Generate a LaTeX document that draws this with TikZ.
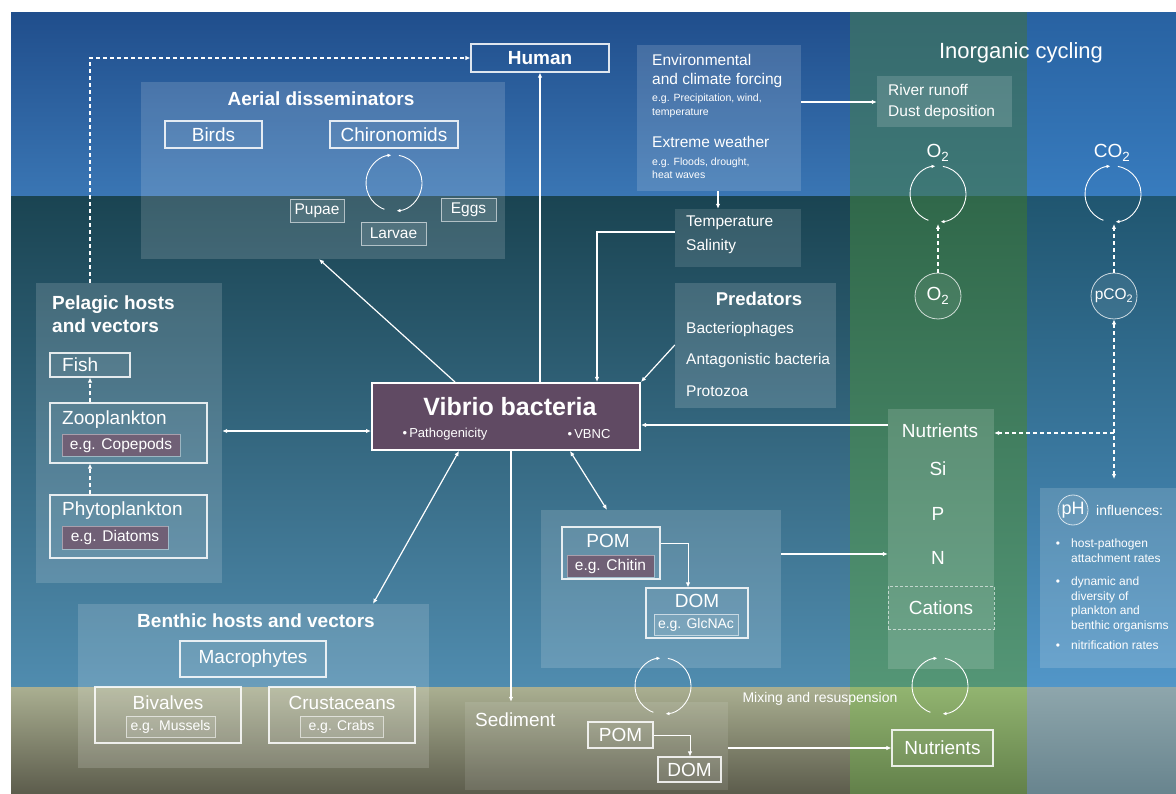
\documentclass[tikz,border=0pt]{standalone}
\usepackage{fontspec}
\setmainfont{Liberation Sans}
\usetikzlibrary{arrows.meta,fit}

\definecolor{skytop}{RGB}{32,78,140}
\definecolor{skybot}{RGB}{58,118,180}
\definecolor{seatop}{RGB}{26,68,82}
\definecolor{seabot}{RGB}{80,140,175}
\definecolor{sedtop}{RGB}{170,175,145}
\definecolor{sedbot}{RGB}{92,92,76}
\definecolor{grnskytop}{RGB}{54,106,110}
\definecolor{grnskybot}{RGB}{62,120,118}
\definecolor{grntop}{RGB}{48,104,74}
\definecolor{grnbot}{RGB}{84,150,118}
\definecolor{grnsedtop}{RGB}{146,180,112}
\definecolor{grnsedbot}{RGB}{98,128,74}
\definecolor{rskytop}{RGB}{40,98,162}
\definecolor{rskybot}{RGB}{56,124,190}
\definecolor{rseatop}{RGB}{32,86,112}
\definecolor{rseabot}{RGB}{82,150,200}
\definecolor{rsedtop}{RGB}{142,166,172}
\definecolor{rsedbot}{RGB}{104,132,142}
\definecolor{vibriofill}{RGB}{96,74,99}
\definecolor{mauve}{RGB}{112,96,118}

\begin{document}
\begin{tikzpicture}[x=1pt, y=-1pt,
    every node/.style={text=white, inner sep=0pt},
    arrow/.style={draw=white, line width=1.2pt, -{Latex[length=5pt,width=4.5pt]}},
    biarrow/.style={draw=white, line width=1.2pt, {Latex[length=5pt,width=4.5pt]}-{Latex[length=5pt,width=4.5pt]}},
    dasharrow/.style={arrow, dash pattern=on 4pt off 3pt},
    bidasharrow/.style={biarrow, dash pattern=on 4pt off 3pt},
    cyc/.style={draw=white, line width=0.9pt, -{Latex[length=4pt,width=3.5pt]}},
    panel/.style={fill=white, fill opacity=0.15},
    box/.style={draw=white, draw opacity=0.85, line width=1.1pt, fill=white, fill opacity=0.05, text opacity=1},
    ebox/.style={draw=white, draw opacity=0.6, line width=0.8pt, fill=white, fill opacity=0.1, text opacity=1},
    mbox/.style={draw=white, draw opacity=0.4, line width=0.8pt, fill=mauve, text opacity=1},
    ring/.style={circle, draw=white, draw opacity=0.75, line width=0.8pt, fill=white, fill opacity=0.08, text opacity=1},
    txthdr/.style={font=\bfseries\fontsize{19}{23}\selectfont},
    txtbig/.style={font=\fontsize{19}{22}\selectfont},
    txtmid/.style={font=\fontsize{15.5}{18}\selectfont},
    txtsml/.style={font=\fontsize{14}{16}\selectfont},
    txttny/.style={font=\fontsize{10.5}{12}\selectfont},
    phtxt/.style={font=\fontsize{12}{14.5}\selectfont},
  ]
  \useasboundingbox (0,0) rectangle (1176,794);
  \fill[white] (0,0) rectangle (1176,794);
  % sky, water column and sediment
  \shade[top color=skytop, bottom color=skybot] (11,13) rectangle (850,197);
  \shade[top color=seatop, bottom color=seabot] (11,197) rectangle (850,687);
  \shade[top color=sedtop, bottom color=sedbot] (11,687) rectangle (850,794);
  \shade[top color=grnskytop, bottom color=grnskybot] (850,13) rectangle (1027,197);
  \shade[top color=grntop, bottom color=grnbot] (850,197) rectangle (1027,687);
  \shade[top color=grnsedtop, bottom color=grnsedbot] (850,687) rectangle (1027,794);
  \shade[top color=rskytop, bottom color=rskybot] (1027,13) rectangle (1176,197);
  \shade[top color=rseatop, bottom color=rseabot] (1027,197) rectangle (1176,687);
  \shade[top color=rsedtop, bottom color=rsedbot] (1027,687) rectangle (1176,794);

  % panels
  \node[panel, fit={(141,82) (505,259)}] (aerial) {};
  \node[panel, fit={(637,45) (801,191)}] (env) {};
  \node[panel, fit={(877,76) (1012,127)}] (river) {};
  \node[panel, fill opacity=0.12, fit={(675,209) (801,267)}] (temp) {};
  \node[panel, fit={(675,283) (836,408)}] (pred) {};
  \node[panel, fit={(36,283) (222,583)}] (pelagic) {};
  \node[panel, fit={(541,510) (781,668)}] (pompanel) {};
  \node[panel, fit={(888,409) (994,669)}] (nutpanel) {};
  \node[panel, fit={(1040,488) (1176,668)}] (phpanel) {};
  \node[panel, fit={(78,604) (429,768)}] (benthic) {};
  \node[panel, fill opacity=0.1, fit={(465,702) (728,790)}] (sediment) {};

  % aerial disseminators
  \node[box, txthdr, fill opacity=0, minimum width=138pt, minimum height=28pt] (human) at (540,58) {Human};
  \node[txthdr] (aeriallbl) at (321,99) {Aerial disseminators};
  \node[box, txtbig, minimum width=97pt, minimum height=27pt] (birds) at (213.5,134.5) {Birds};
  \node[box, txtbig, minimum width=128pt, minimum height=27pt] (chiro) at (394,134.5) {Chironomids};
  \node[ebox, txtmid, minimum width=54pt, minimum height=23pt] (pupae) at (317,210.5) {Pupae};
  \node[ebox, txtmid, minimum width=55pt, minimum height=23pt] (eggs) at (468.5,209.5) {Eggs};
  \node[ebox, txtmid, minimum width=65pt, minimum height=23pt] (larvae) at (393.5,233.5) {Larvae};

  % forcing
  \node[txtmid, anchor=west] (env1) at (652,60) {Environmental};
  \node[txtmid, anchor=west] (env2) at (652,80) {and climate forcing};
  \node[txttny, anchor=west] (env3) at (652,99) {e.g. Precipitation, wind,};
  \node[txttny, anchor=west] (env4) at (652,113) {temperature};
  \node[txtmid, anchor=west] (env5) at (652,142) {Extreme weather};
  \node[txttny, anchor=west] (env6) at (652,163) {e.g. Floods, drought,};
  \node[txttny, anchor=west] (env7) at (652,175) {heat waves};
  \node[txtmid, anchor=west] (temp1) at (686,223) {Temperature};
  \node[txtmid, anchor=west] (temp2) at (686,246) {Salinity};
  \node[font=\bfseries\fontsize{18.5}{22}\selectfont] (predlbl) at (759,299) {Predators};
  \node[txtmid, anchor=west] (pred1) at (686,329) {Bacteriophages};
  \node[txtmid, anchor=west] (pred2) at (686,360) {Antagonistic bacteria};
  \node[txtmid, anchor=west] (pred3) at (686,391) {Protozoa};

  % inorganic cycling
  \node[font=\fontsize{22}{26}\selectfont] (inorg) at (1021,53) {Inorganic cycling};
  \node[txtmid, anchor=west] (river1) at (888,90) {River runoff};
  \node[txtmid, anchor=west] (river2) at (888,112) {Dust deposition};
  \node[txtbig] (o2lbl) at (938,153) {O\textsubscript{2}};
  \node[txtbig] (co2lbl) at (1112,153) {CO\textsubscript{2}};
  \node[ring, txtbig, minimum size=46pt] (o2circ) at (938,296) {O\textsubscript{2}};
  \node[ring, txtmid, minimum size=46pt] (pco2circ) at (1114,296) {pCO\textsubscript{2}};
  \coordinate (cycchiro) at (394,183);
  \coordinate (cyco2) at (938,194);
  \coordinate (cycco2) at (1113,194);
  \coordinate (cycpom) at (663,686);
  \coordinate (cycnut) at (940,686);
  \foreach \c in {cycchiro,cyco2,cycco2,cycpom,cycnut}{
    \draw[cyc] (\c) ++(110:28) arc[start angle=110, end angle=265, radius=28];
    \draw[cyc] (\c) ++(-80:28) arc[start angle=-80, end angle=85, radius=28];
  }

  % pelagic hosts
  \node[txthdr, align=left, anchor=west] (pellbl) at (52,314.5) {Pelagic hosts\\and vectors};
  \node[box, minimum width=80pt, minimum height=24pt] (fish) at (90,365) {};
  \node[txtbig, anchor=west] (fishlbl) at (62,365) {Fish};
  \node[box, minimum width=157pt, minimum height=60pt] (zoo) at (128.5,433) {};
  \node[txtbig, anchor=west] (zoolbl) at (62,420) {Zooplankton};
  \node[mbox, txtmid, minimum width=118pt, minimum height=22pt] (copepods) at (121,445) {e.g. Copepods};
  \node[box, minimum width=157pt, minimum height=63pt] (phyto) at (128.5,526.5) {};
  \node[txtbig, anchor=west] (phytolbl) at (62,511) {Phytoplankton};
  \node[mbox, txtmid, minimum width=106pt, minimum height=23pt] (diatoms) at (115,537.5) {e.g. Diatoms};

  % vibrio
  \node[draw=white, line width=2pt, fill=vibriofill, minimum width=268pt, minimum height=67pt] (vibrio) at (506,416.5) {};
  \node[font=\bfseries\fontsize{25}{28}\selectfont] (viblbl) at (510,407) {Vibrio bacteria};
  \node[font=\fontsize{13}{15}\selectfont] (patho) at (445,434) {\textbullet\,Pathogenicity};
  \node[font=\fontsize{13}{15}\selectfont] (vbnc) at (589,434) {\textbullet\,VBNC};

  % organic matter
  \node[box, minimum width=98pt, minimum height=52pt] (pom) at (611,553) {};
  \node[txtbig] (pomlbl) at (608,541) {POM};
  \node[mbox, txtmid, minimum width=87pt, minimum height=22pt] (chitin) at (610.5,566) {e.g. Chitin};
  \node[box, minimum width=102pt, minimum height=50pt] (dom) at (697,613) {};
  \node[txtbig] (domlbl) at (697,601) {DOM};
  \node[ebox, txtsml, minimum width=84pt, minimum height=21pt] (glcnac) at (696,624.5) {e.g. GlcNAc};

  % nutrients
  \node[txtbig] (nutlbl) at (940,431) {Nutrients};
  \node[txtbig] (silbl) at (938,469) {Si};
  \node[txtbig] (plbl) at (938,514) {P};
  \node[txtbig] (nlbl) at (938,558) {N};
  \node[txtbig, draw=white, draw opacity=0.6, line width=0.8pt, dash pattern=on 3pt off 2pt, minimum width=106pt, minimum height=43pt] (cations) at (941,607.5) {Cations};

  % pH
  \node[ring, font=\fontsize{18}{20}\selectfont, minimum size=30pt] (phcirc) at (1073,510) {pH};
  \node[txtsml, anchor=west] (influ) at (1096,510) {influences:};
  \foreach \y [count=\i] in {545,583,647}
    \node[phtxt] (bul\i) at (1058,\y) {\textbullet};
  \node[phtxt, align=left, anchor=north west] (ph1) at (1071,539) {host-pathogen\\attachment rates};
  \node[phtxt, align=left, anchor=north west] (ph2) at (1071,577) {dynamic and\\diversity of\\plankton and\\benthic organisms};
  \node[phtxt, align=left, anchor=north west] (ph3) at (1071,641) {nitrification rates};

  % benthic hosts
  \node[txthdr] (benlbl) at (256,621) {Benthic hosts and vectors};
  \node[box, txtbig, minimum width=146pt, minimum height=36pt] (macro) at (253,659) {Macrophytes};
  \node[box, minimum width=146pt, minimum height=56pt] (bivalve) at (168,715) {};
  \node[txtbig] (bivlbl) at (168,703) {Bivalves};
  \node[ebox, txtsml, minimum width=89pt, minimum height=21pt] (mussels) at (170.5,726.5) {e.g. Mussels};
  \node[box, minimum width=146pt, minimum height=56pt] (crust) at (342,715) {};
  \node[txtbig] (crulbl) at (342,703) {Crustaceans};
  \node[ebox, txtsml, minimum width=83pt, minimum height=21pt] (crabs) at (341.5,726.5) {e.g. Crabs};

  % sediment
  \node[txtbig, anchor=west] (sedlbl) at (475,720) {Sediment};
  \node[box, txtbig, minimum width=65pt, minimum height=26pt] (sedpom) at (620.5,735) {POM};
  \node[box, txtbig, minimum width=63pt, minimum height=25pt] (seddom) at (689.5,769.5) {DOM};
  \node[txtsml] (mixlbl) at (820,699) {Mixing and resuspension};
  \node[box, txtbig, minimum width=101pt, minimum height=36pt] (nutbox) at (942.5,748) {Nutrients};

  % connectors
  \draw[dasharrow] (pelagic.north -| 90,0) |- (human.west);
  \draw[arrow] (vibrio.north -| human.south) -- (human.south);
  \draw[arrow] (vibrio.north -| 455,0) -- (aerial.south -| 319,0);
  \draw[arrow] (env.south -| 718,0) -- (temp.north -| 718,0);
  \draw[arrow] (env.east |- 0,102) -- (river.west |- 0,102);
  \draw[arrow] (temp.west |- 0,232) -| (vibrio.north -| 597,0);
  \draw[arrow] (pred.west |- 0,345) -- (vibrio.north east);
  \draw[biarrow] (pelagic.east |- 0,431) -- (vibrio.west |- 0,431);
  \draw[biarrow] (vibrio.south -| 459,0) -- (benthic.north -| 373,0);
  \draw[arrow] (vibrio.south -| 511,0) -- (sediment.north -| 511,0);
  \draw[biarrow] (vibrio.south -| 570,0) -- (pompanel.north -| 607,0);
  \draw[arrow] (nutpanel.west |- 0,425) -- (vibrio.east |- 0,425);
  \draw[arrow] (pompanel.east |- 0,554) -- (nutpanel.west |- 0,554);
  \draw[arrow, line width=1pt] (pom.east |- 0,543) -| (dom.north -| 688,0);
  \draw[arrow, line width=0.8pt] (sedpom.east) -| (seddom.north -| 690,0);
  \draw[arrow] (sediment.east |- nutbox.west) -- (nutbox.west);
  \draw[dasharrow] (zoo.north -| fish.south) -- (fish.south);
  \draw[dasharrow] (phyto.north -| fish.south) -- (zoo.south -| fish.south);
  \draw[dasharrow] (o2circ.north) -- (o2circ.north |- 0,224);
  \draw[dasharrow] (pco2circ.north) -- (pco2circ.north |- 0,224);
  \draw[bidasharrow] (pco2circ.south) -- (pco2circ.south |- 0,479);
  \draw[dasharrow] (pco2circ.south |- 0,433) -- (nutpanel.east |- 0,433);
\end{tikzpicture}
\end{document}
